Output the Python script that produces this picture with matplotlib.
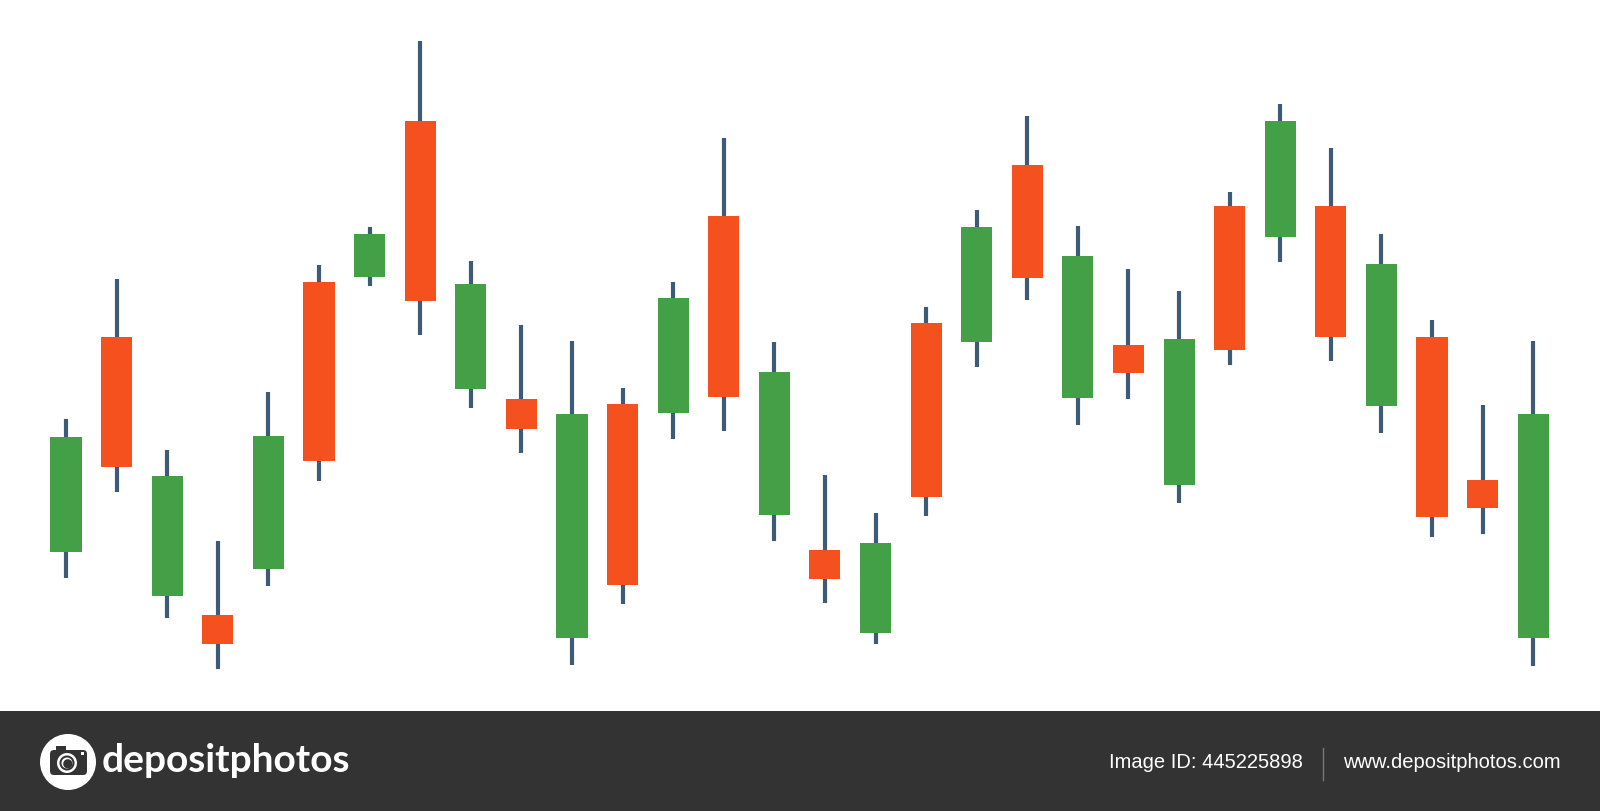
import matplotlib
matplotlib.use("Agg")
import matplotlib.pyplot as plt
from matplotlib.patches import Rectangle, Circle, FancyBboxPatch
import numpy as np

# OHLC values (arbitrary price units)
opens  = [159, 374, 115,  96, 142, 429, 434, 590, 322, 312,  73, 307, 298, 495, 196,
          161,  78, 388, 369, 546, 313, 366, 226, 505, 474, 505, 305, 374, 231,  73]
highs  = [292, 432, 261, 170, 319, 446, 484, 670, 450, 386, 370, 323, 429, 573, 369,
          236, 198, 404, 501, 595, 485, 442, 420, 519, 607, 563, 477, 391, 306, 370]
lows   = [133, 219,  93,  42, 125, 230, 425, 376, 303, 258,  46, 107, 272, 280, 170,
          108,  67, 195, 344, 411, 286, 312, 208, 346, 449, 350, 278, 174, 177,  45]
closes = [274, 244, 235,  67, 275, 250, 477, 410, 427, 282, 297, 126, 413, 314, 339,
          132, 168, 214, 484, 433, 455, 338, 372, 361, 590, 374, 447, 194, 203, 297]

up_col = "#43a047"
down_col = "#f4511e"
wick_col = "#3d5a78"
bar_col = "#333333"

fig = plt.figure(figsize=(16, 8.11), dpi=100)
fig.patch.set_facecolor("white")

ax = fig.add_axes([0, 100 / 811, 1, 711 / 811])
ax.set_xlim(-1.305, 30.32)
ax.set_ylim(0, 711)
ax.axis("off")

w = 0.615
for i in range(len(opens)):
    o, h, l, c = opens[i], highs[i], lows[i], closes[i]
    col = up_col if c >= o else down_col
    ax.vlines(i, l, h, color=wick_col, linewidth=3.0, zorder=1)
    ax.add_patch(Rectangle((i - w / 2, min(o, c)), w, abs(c - o),
                           facecolor=col, edgecolor="none", zorder=2))

# bottom banner
bx = fig.add_axes([0, 0, 1, 1], zorder=-1)
bx.set_xlim(0, 1600)
bx.set_ylim(811, 0)
bx.axis("off")
bx.add_patch(Rectangle((0, 711), 1600, 100, facecolor=bar_col, edgecolor="none"))

# camera logo
bx.add_patch(Circle((68, 762), 28, facecolor="white", edgecolor="none"))
bx.add_patch(FancyBboxPatch((50, 750), 37, 25, boxstyle="round,pad=0,rounding_size=4",
                            facecolor=bar_col, edgecolor="none"))
bx.add_patch(Rectangle((56, 746), 10, 6, facecolor=bar_col, edgecolor="none"))
bx.add_patch(Circle((67, 763), 10, facecolor="white", edgecolor="none"))
bx.add_patch(Circle((67, 763), 7.5, facecolor=bar_col, edgecolor="none"))
bx.add_patch(Circle((67, 763), 5.5, facecolor="white", edgecolor="none"))
bx.add_patch(Circle((67.8, 763.8), 4.6, facecolor=bar_col, edgecolor="none"))
bx.add_patch(Rectangle((81, 752), 3, 3, facecolor="white", edgecolor="none"))

bx.text(102, 761, "depositphotos", color="white", fontsize=28, fontweight="bold",
        family="Lato", va="center", ha="left")
bx.text(1303, 763, "Image ID: 445225898", color="white", fontsize=14.5,
        family="Liberation Sans", va="center", ha="right")
bx.plot([1323, 1323], [748, 780], color="#777777", linewidth=1)
bx.text(1343, 763, "www.depositphotos.com", color="white", fontsize=14.5,
        family="Liberation Sans", va="center", ha="left")

fig.savefig("out.png", dpi=100)
